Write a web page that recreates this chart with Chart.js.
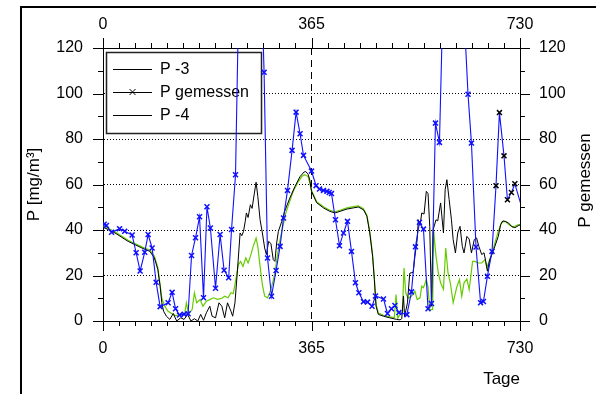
<!DOCTYPE html>
<html>
<head>
<meta charset="utf-8">
<script src="https://cdn.jsdelivr.net/npm/chart.js@4.4.1/dist/chart.umd.min.js"></script>
<style>
  html, body { margin: 0; padding: 0; background: #fff; overflow: hidden; }
  #wrap { position: relative; width: 596px; height: 394px; }
  #frame { position: absolute; left: 20px; top: 6px; width: 600px; height: 400px;
           border-left: 2px solid #000; border-top: 2px solid #000; pointer-events: none; }
</style>
</head>
<body>
<div id="wrap">
  <canvas id="chart" width="596" height="394"></canvas>
  <div id="frame"></div>
</div>
<script>
// tick labels
const xTickLabels = [0, 365, 730];
const yTickLabels = [0, 20, 40, 60, 80, 100, 120];

// P -3 (model, black)
const p3Days = [0, 21, 44, 68, 82, 90, 96, 100, 103, 106, 111, 117, 123, 129, 136, 142, 148, 154, 160, 166,
  171, 176, 181, 187, 191, 197, 203, 208, 213, 218, 224, 227, 231, 235, 240, 243, 246, 249, 251, 254,
  258, 261, 265, 268, 271, 275, 279, 283, 286, 290, 294, 298, 301, 304, 307, 313, 318, 327, 336, 345,
  352, 355, 359, 362, 365, 374, 386, 397, 406, 415, 427, 438, 447, 456, 462, 467, 472, 475, 478, 482,
  491, 502, 514, 520, 523, 526, 528, 533, 537, 543, 546, 550, 552, 555, 558, 562, 566, 569, 572, 575,
  578, 583, 586, 591, 596, 599, 602, 606, 610, 613, 617, 621, 625, 629, 632, 637, 641, 645, 650, 654,
  658, 663, 667, 670, 673, 677, 682, 686, 692, 696, 700, 704, 710, 715, 721, 727, 730];
const p3Values = [41.3, 38.7, 35, 32.1, 30.6, 27.7, 22.6, 15.3, 8, 4.3, 2.1, 0.7, 3.3, 0, 1.4, 0.7, 2.9, 0, 1, 0,
  2.9, 0.3, 3.6, 6.5, 2.1, 1.4, 8, 6.5, 1.4, 8, 4.3, 2.1, 8, 21, 38.7, 37.5, 39.4, 43.8, 47.5, 45.5,
  51.1, 49.5, 56.2, 61, 54.8, 44.5, 38.7, 32.1, 29.2, 35, 34, 27, 26.2, 34.3, 39.4, 43.8, 48.2, 54, 59.1, 63.5,
  65.5, 65.7, 64.5, 62, 57, 52, 49.7, 48.2, 47.5, 48.2, 49.2, 49.7, 50.1, 48.9, 46, 38.7, 28.4, 18.2, 6.5, 2.9,
  2.1, 1.4, 0.7, 0.5, 1, 11, 2, 8, 21, 21.4, 28.4, 35.8, 44.5, 42, 47.5, 47, 57, 56, 41.6, 6.5,
  40.2, 44.5, 44, 51.9, 38.7, 57.7, 62.1, 53.3, 44.5, 35.8, 29.9, 38.7, 41.6, 32.8, 29.9, 37.2, 36, 29.9, 35.8, 36.5,
  32.8, 29.2, 30, 26.2, 21.9, 27, 29.9, 32.8, 37.2, 42.3, 44, 43.8, 43.1, 41.6, 41, 41.9, 42.3];

// P -4 (model, green)
const p4Days = [0, 21, 44, 68, 82, 90, 96, 100, 103, 108, 114, 126, 135, 143, 146, 150, 156, 160, 164, 170,
  175, 181, 187, 193, 201, 208, 213, 219, 224, 228, 231, 237, 241, 245, 250, 254, 258, 263, 268, 271,
  275, 279, 283, 288, 292, 297, 301, 305, 310, 315, 320, 326, 333, 342, 348, 353, 359, 362, 365, 374,
  386, 397, 406, 415, 427, 438, 447, 456, 462, 467, 472, 475, 478, 482, 491, 502, 510, 513, 516, 520,
  524, 527, 530, 534, 540, 546, 550, 555, 558, 561, 566, 569, 572, 577, 579, 583, 587, 591, 596, 600,
  604, 608, 613, 619, 624, 628, 632, 637, 641, 647, 651, 657, 663, 669, 672, 680, 686, 692, 698, 704,
  711, 718, 727, 730];
const p4Values = [41.8, 39.2, 35.5, 32.6, 31.1, 28.5, 23.5, 16, 10, 6.5, 4.3, 2.4, 2.6, 3.3, 8, 3, 5, 12.4, 8, 9.4,
  6.5, 8.7, 9.4, 10.2, 9.5, 10, 10.9, 10.2, 12.4, 12, 16, 24.8, 26.2, 24, 27.7, 25.5, 28.4, 32.8, 36.5, 32.8,
  24, 16, 10.9, 10.2, 12.4, 16.8, 21.1, 28.4, 35.8, 41.6, 47.5, 51.9, 57, 61.3, 63.5, 64.3, 63.5, 60.6, 57.5, 52.4,
  50.2, 48.7, 48, 48.7, 49.7, 50.3, 50.6, 49.4, 46.5, 39.5, 29, 19, 7.5, 3.5, 2.5, 1.8, 1.5, 11.6, 1.2, 3,
  3.6, 23.3, 12.4, 10, 10.9, 13.1, 9.4, 10.2, 15.3, 14.6, 18.2, 15, 5, 5, 39.4, 28.4, 21.1, 16.8, 14, 32.1,
  21.1, 16.8, 8, 14.6, 18.2, 10.9, 16.8, 18.5, 13.8, 26.2, 26.2, 25.5, 25.5, 27, 23.5, 29, 34.3, 39.4, 43.5, 43.8,
  42.3, 41.3, 42.3, 42];

// P gemessen (measured, blue with crosses)
const measDays = [2, 6, 15, 29, 38, 51, 58, 65, 73, 79, 86, 93, 100, 114, 121, 127, 134, 142, 149, 155,
  162, 169, 176, 182, 188, 197, 205, 212, 220, 225, 232, 253, 282, 288, 295, 303, 310, 316, 323, 331,
  338, 345, 351, 365, 373, 379, 386, 392, 396, 400, 407, 414, 421, 428, 435, 442, 448, 456, 463, 471,
  477, 491, 498, 505, 511, 518, 532, 540, 547, 554, 561, 569, 575, 582, 589, 607, 639, 645, 653, 661,
  666, 673, 681, 688, 694, 702, 708, 715, 721, 740];
const measValues = [42.5, 42, 39, 40.6, 39.4, 37.8, 30, 22, 30.2, 38, 32.1, 17, 6.3, 8, 12.6, 5.4, 2.6, 3, 3.2, 28.8,
  36.6, 45.8, 10.2, 50.2, 40.9, 14.4, 38, 22.3, 19, 40.2, 64.3, 356, 109.3, 27.7, 10.9, 22.2, 32.8, 45.3, 57.4, 75,
  91.8, 82.3, 72.8, 65.9, 59.5, 58, 57.4, 57, 56.5, 56, 44.5, 33.1, 38.7, 43.8, 30.6, 16.8, 12.4, 8.5, 8.3, 6.5,
  11, 9.7, 3.3, 5.4, 6.8, 3.7, 2.8, 12.8, 32.6, 43.4, 40.4, 5.4, 7.7, 87, 78.5, 262, 99.7, 78.2, 32.5, 8,
  8.6, 19.7, 30.6, 59.5, 91.6, 72.6, 53.3, 56.5, 60.3, 44];

const toPoints = (days, vals) => days.map((d, i) => ({ x: d, y: vals[i] }));

const FONT = 'Arial, "Liberation Sans", sans-serif';
const BLUE = '#1010ff';
const GREEN = '#66cc00';

// tick marks (outward, long at labelled values) + legend + right title
const decorations = {
  id: 'decorations',
  beforeDatasetsDraw(chart) {
    const { ctx, chartArea: a } = chart;
    const bx = a.left + 3, by = a.top + 4, bw = 155, bh = 81;
    ctx.save();
    ctx.fillStyle = '#fff';
    ctx.fillRect(bx, by, bw, bh);
    ctx.strokeStyle = '#222';
    ctx.lineWidth = 1.5;
    ctx.strokeRect(bx + 0.5, by + 0.5, bw, bh);

    const items = ['P -3', 'P gemessen', 'P -4'];
    ctx.font = '16px ' + FONT;
    ctx.textBaseline = 'middle';
    ctx.fillStyle = '#000';
    items.forEach((txt, i) => {
      const y = by + 17 + i * 23;
      ctx.strokeStyle = '#000';
      ctx.lineWidth = 1;
      ctx.beginPath();
      ctx.moveTo(bx + 7, y + 0.5);
      ctx.lineTo(bx + 46, y + 0.5);
      ctx.stroke();
      if (i === 1) {
        const cx = bx + 26.5;
        ctx.beginPath();
        ctx.moveTo(cx - 3, y - 3); ctx.lineTo(cx + 3, y + 3);
        ctx.moveTo(cx - 3, y + 3); ctx.lineTo(cx + 3, y - 3);
        ctx.stroke();
      }
      ctx.fillText(txt, bx + 54, y + 1);
    });
    ctx.restore();
  },
  afterDraw(chart) {
    const { ctx, chartArea: a, scales } = chart;
    ctx.save();
    ctx.strokeStyle = '#000';
    ctx.lineWidth = 1;
    ctx.beginPath();
    scales.x.ticks.forEach(t => {
      const px = Math.round(scales.x.getPixelForValue(t.value)) + 0.5;
      const len = xTickLabels.includes(t.value) ? 10 : 5;
      ctx.moveTo(px, a.bottom); ctx.lineTo(px, a.bottom + len);
      ctx.moveTo(px, a.top); ctx.lineTo(px, a.top - len);
    });
    const yMarks = [];
    yTickLabels.forEach((v, i) => {
      yMarks.push([v, 10]);
      if (i < yTickLabels.length - 1) yMarks.push([(v + yTickLabels[i + 1]) / 2, 5]);
    });
    yMarks.forEach(([v, len]) => {
      const py = Math.round(scales.y.getPixelForValue(v)) + 0.5;
      ctx.moveTo(a.left, py); ctx.lineTo(a.left - len, py);
      ctx.moveTo(a.right, py); ctx.lineTo(a.right + len, py);
    });
    ctx.stroke();

    // right axis title, reading bottom to top
    ctx.translate(585, (a.top + a.bottom) / 2 - 4);
    ctx.rotate(-Math.PI / 2);
    ctx.font = '17px ' + FONT;
    ctx.fillStyle = '#000';
    ctx.textAlign = 'center';
    ctx.textBaseline = 'middle';
    ctx.fillText('P gemessen', 0, 0);
    ctx.restore();
  }
};

const xTickValues = [];
for (let k = 0; k <= 26; k++) xTickValues.push(k * 365 / 13);

const xTicks = (padding) => ({
  autoSkip: false,
  maxRotation: 0,
  padding: padding,
  color: '#000',
  font: { family: FONT, size: 16 },
  callback: v => (xTickLabels.includes(v) ? String(v) : '')
});
const yTicks = (padding) => ({
  stepSize: 20,
  padding: padding,
  color: '#000',
  font: { family: FONT, size: 16 }
});

new Chart(document.getElementById('chart'), {
  type: 'line',
  data: {
    datasets: [
      {
        label: 'P gemessen',
        data: toPoints(measDays, measValues),
        borderColor: BLUE,
        borderWidth: 1.1,
        pointStyle: 'crossRot',
        pointRadius: 3.5,
        pointBorderWidth: 1.5,
        pointBorderColor: c => (c.raw && c.raw.x > 685 ? '#000' : BLUE),
        tension: 0
      },
      {
        label: 'P -3',
        data: toPoints(p3Days, p3Values),
        borderColor: '#000',
        borderWidth: 1,
        pointRadius: 0,
        tension: 0
      },
      {
        label: 'P -4',
        data: toPoints(p4Days, p4Values),
        borderColor: GREEN,
        borderWidth: 1.2,
        pointRadius: 0,
        tension: 0
      }
    ]
  },
  options: {
    responsive: false,
    animation: false,
    events: [],
    layout: { padding: 0 },
    plugins: {
      legend: { display: false },
      tooltip: { enabled: false },
      title: { display: false }
    },
    scales: {
      x: {
        type: 'linear',
        position: 'bottom',
        min: 0,
        max: 730,
        afterBuildTicks: s => { s.ticks = xTickValues.map(v => ({ value: v })); },
        afterFit: s => { s.height = 73; },
        ticks: xTicks(18),
        grid: {
          drawTicks: false,
          lineWidth: 1,
          color: c => (c.tick && c.tick.value === 365 ? '#000' : 'rgba(0,0,0,0)')
        },
        border: { display: true, color: '#000', width: 1, dash: [7, 5] },
        title: {
          display: true,
          text: 'Tage',
          align: 'end',
          color: '#000',
          font: { family: FONT, size: 17 },
          padding: { top: 0, bottom: 4 }
        }
      },
      x2: {
        type: 'linear',
        position: 'top',
        min: 0,
        max: 730,
        afterBuildTicks: s => { s.ticks = xTickValues.map(v => ({ value: v })); },
        afterFit: s => { s.height = 48; },
        ticks: xTicks(14),
        grid: { drawTicks: false, drawOnChartArea: false },
        border: { display: true, color: '#000', width: 1 }
      },
      y: {
        position: 'left',
        min: 0,
        max: 120,
        afterFit: s => { s.width = 103; },
        ticks: yTicks(20),
        grid: {
          drawTicks: false,
          lineWidth: 1,
          color: c => (c.tick && c.tick.value > 0 && c.tick.value < 120 ? '#000' : 'rgba(0,0,0,0)')
        },
        border: { display: true, color: '#000', width: 1, dash: [1, 2] },
        title: {
          display: true,
          text: 'P [mg/m³]',
          color: '#000',
          font: { family: FONT, size: 17 },
          padding: { top: 24, bottom: 0 }
        }
      },
      y2: {
        position: 'right',
        min: 0,
        max: 120,
        afterFit: s => { s.width = 76; },
        ticks: yTicks(19),
        grid: { drawTicks: false, drawOnChartArea: false },
        border: { display: true, color: '#000', width: 1 }
      }
    }
  },
  plugins: [decorations]
});
</script>
</body>
</html>
